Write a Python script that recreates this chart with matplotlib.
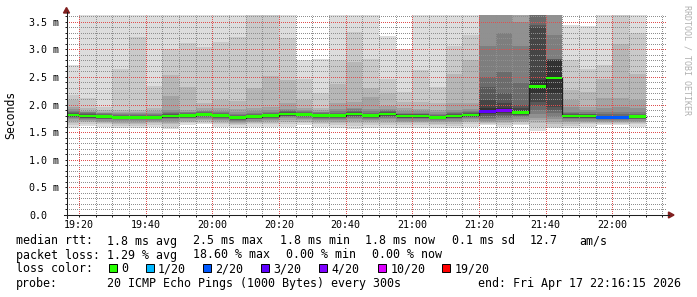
import numpy as np
import matplotlib
matplotlib.use("Agg")
import matplotlib.pyplot as plt
from matplotlib.patches import Rectangle, Polygon
from matplotlib.lines import Line2D
from matplotlib.ticker import FixedLocator

INF = float("inf")

# ---------------- data ----------------
bin_starts = ["19:15", "19:20", "19:25", "19:30", "19:35", "19:40", "19:45", "19:50", "19:55",
              "20:00", "20:05", "20:10", "20:15", "20:20", "20:25", "20:30", "20:35", "20:40",
              "20:45", "20:50", "20:55", "21:00", "21:05", "21:10", "21:15", "21:20", "21:25",
              "21:30", "21:35", "21:40", "21:45", "21:50", "21:55", "22:00", "22:05"]
bin_minutes = 5
view_start = "19:16:15"
view_end = "22:16:15"

median_ms = [1.81, 1.79, 1.78, 1.77, 1.77, 1.77, 1.79, 1.80, 1.82, 1.80, 1.76, 1.78, 1.80,
             1.83, 1.82, 1.80, 1.80, 1.83, 1.80, 1.83, 1.79, 1.79, 1.77, 1.79, 1.81, 1.87,
             1.89, 1.85, 2.32, 2.48, 1.79, 1.79, 1.77, 1.77, 1.78]
loss_count = [0] * 25 + [3, 4, 0, 0, 0, 0, 0, 2, 2, 0]

# 20 sorted ping RTTs (ms) per 5-minute bin
pings = [
    [1.58, 1.63, 1.67, 1.70, 1.73, 1.76, 1.77, 1.78, 1.79, 1.80, 1.82, 1.83, 1.84, 1.86, 1.89, 1.92, 1.96, 2.08, 2.17, 2.71],
    [1.61, 1.65, 1.68, 1.70, 1.72, 1.74, 1.75, 1.76, 1.77, 1.78, 1.80, 1.81, 1.82, 1.84, 1.86, 1.87, 1.89, 1.93, 2.11, INF],
    [1.60, 1.64, 1.67, 1.69, 1.71, 1.73, 1.74, 1.75, 1.76, 1.77, 1.79, 1.80, 1.81, 1.82, 1.84, 1.85, 1.87, 1.90, 1.96, INF],
    [1.57, 1.61, 1.64, 1.67, 1.70, 1.72, 1.73, 1.74, 1.75, 1.76, 1.78, 1.79, 1.80, 1.81, 1.83, 1.84, 1.86, 1.90, 2.65, INF],
    [1.57, 1.61, 1.64, 1.67, 1.70, 1.72, 1.73, 1.74, 1.75, 1.76, 1.78, 1.79, 1.80, 1.81, 1.83, 1.84, 1.86, 1.90, 3.22, INF],
    [1.60, 1.63, 1.66, 1.68, 1.70, 1.72, 1.73, 1.74, 1.75, 1.76, 1.78, 1.79, 1.80, 1.81, 1.83, 1.85, 1.88, 1.94, 2.33, INF],
    [1.55, 1.60, 1.64, 1.67, 1.70, 1.73, 1.75, 1.76, 1.77, 1.78, 1.80, 1.81, 1.82, 1.84, 1.87, 1.90, 2.15, 2.53, 3.00, INF],
    [1.63, 1.66, 1.69, 1.71, 1.73, 1.75, 1.76, 1.77, 1.78, 1.79, 1.81, 1.82, 1.83, 1.84, 1.86, 1.87, 1.90, 2.31, 3.12, INF],
    [1.64, 1.67, 1.70, 1.72, 1.74, 1.76, 1.78, 1.79, 1.80, 1.81, 1.83, 1.84, 1.85, 1.86, 1.88, 1.89, 1.93, 2.02, 3.04, INF],
    [1.60, 1.64, 1.67, 1.70, 1.72, 1.74, 1.76, 1.77, 1.78, 1.79, 1.81, 1.82, 1.83, 1.84, 1.86, 1.88, 1.93, 2.09, 3.14, INF],
    [1.58, 1.62, 1.65, 1.67, 1.69, 1.71, 1.72, 1.73, 1.74, 1.75, 1.77, 1.78, 1.79, 1.81, 1.83, 1.86, 1.91, 2.07, 3.22, INF],
    [1.60, 1.64, 1.67, 1.69, 1.71, 1.73, 1.74, 1.75, 1.76, 1.77, 1.79, 1.80, 1.81, 1.83, 1.85, 1.88, 1.93, 2.29, INF, INF],
    [1.60, 1.64, 1.67, 1.70, 1.72, 1.74, 1.76, 1.77, 1.78, 1.79, 1.81, 1.82, 1.83, 1.85, 1.87, 1.90, 1.96, 2.51, INF, INF],
    [1.60, 1.65, 1.69, 1.72, 1.75, 1.77, 1.79, 1.80, 1.81, 1.82, 1.84, 1.85, 1.86, 1.88, 1.90, 1.92, 2.03, 2.45, 3.20, INF],
    [1.62, 1.66, 1.69, 1.72, 1.74, 1.76, 1.78, 1.79, 1.80, 1.81, 1.83, 1.84, 1.85, 1.86, 1.88, 1.90, 1.94, 2.08, 2.47, 2.80],
    [1.60, 1.64, 1.67, 1.70, 1.72, 1.74, 1.76, 1.77, 1.78, 1.79, 1.81, 1.82, 1.83, 1.84, 1.86, 1.87, 1.90, 1.94, 2.20, 2.83],
    [1.57, 1.62, 1.66, 1.69, 1.72, 1.74, 1.76, 1.77, 1.78, 1.79, 1.81, 1.82, 1.83, 1.85, 1.88, 1.92, 2.03, 2.38, 2.80, INF],
    [1.55, 1.61, 1.66, 1.70, 1.73, 1.76, 1.78, 1.80, 1.81, 1.82, 1.84, 1.85, 1.86, 1.88, 1.91, 1.94, 2.05, 2.77, 3.31, INF],
    [1.58, 1.63, 1.67, 1.70, 1.72, 1.74, 1.76, 1.77, 1.78, 1.79, 1.81, 1.82, 1.83, 1.85, 1.88, 1.92, 2.13, 2.29, 2.82, INF],
    [1.57, 1.62, 1.67, 1.71, 1.74, 1.76, 1.78, 1.80, 1.81, 1.82, 1.84, 1.85, 1.86, 1.88, 1.90, 1.92, 1.97, 2.20, 2.47, 3.24],
    [1.58, 1.62, 1.66, 1.69, 1.71, 1.73, 1.75, 1.76, 1.77, 1.78, 1.80, 1.81, 1.82, 1.83, 1.85, 1.88, 1.93, 2.04, 2.23, 3.00],
    [1.58, 1.62, 1.66, 1.69, 1.71, 1.73, 1.75, 1.76, 1.77, 1.78, 1.80, 1.81, 1.82, 1.83, 1.85, 1.88, 1.92, 2.05, 2.63, INF],
    [1.58, 1.62, 1.65, 1.68, 1.70, 1.72, 1.73, 1.74, 1.75, 1.76, 1.78, 1.79, 1.80, 1.81, 1.83, 1.86, 1.90, 2.02, 2.32, INF],
    [1.57, 1.61, 1.65, 1.68, 1.71, 1.73, 1.75, 1.76, 1.77, 1.78, 1.80, 1.81, 1.82, 1.84, 1.87, 1.90, 2.02, 2.56, 3.06, INF],
    [1.60, 1.64, 1.68, 1.71, 1.73, 1.75, 1.77, 1.78, 1.79, 1.80, 1.82, 1.83, 1.84, 1.86, 1.89, 1.92, 2.03, 2.80, 3.25, INF],
    [1.62, 1.64, 1.66, 1.68, 1.70, 1.73, 1.76, 1.79, 1.82, 1.86, 1.93, 2.08, 2.31, 2.50, 3.06, INF, INF, INF, INF, INF],
    [1.60, 1.63, 1.66, 1.69, 1.72, 1.75, 1.78, 1.81, 1.85, 1.88, 1.94, 2.02, 2.20, 2.59, 3.29, INF, INF, INF, INF, INF],
    [1.62, 1.65, 1.68, 1.71, 1.74, 1.77, 1.79, 1.81, 1.83, 1.84, 1.89, 1.93, 2.00, 2.39, 3.06, 3.50, INF, INF, INF, INF],
    [1.52, 1.60, 1.66, 1.72, 1.76, 1.82, 1.90, 1.98, 2.05, 2.20, 2.45, 3.40, 3.44, INF, INF, INF, INF, INF, INF, INF],
    [1.57, 1.60, 1.64, 1.68, 1.73, 1.78, 1.84, 1.90, 1.96, 2.20, 2.80, 2.81, 2.82, 2.83, 3.25, INF, INF, INF, INF, INF],
    [1.57, 1.61, 1.65, 1.68, 1.71, 1.73, 1.75, 1.76, 1.77, 1.78, 1.80, 1.81, 1.82, 1.84, 1.87, 1.95, 2.08, 2.26, 2.80, 3.44],
    [1.60, 1.64, 1.67, 1.69, 1.71, 1.73, 1.75, 1.76, 1.77, 1.78, 1.80, 1.81, 1.82, 1.83, 1.86, 1.90, 1.96, 2.23, 2.65, 3.42],
    [1.62, 1.65, 1.67, 1.69, 1.71, 1.72, 1.73, 1.74, 1.75, 1.76, 1.78, 1.79, 1.80, 1.82, 1.86, 1.93, 2.11, 2.47, 2.71, INF],
    [1.62, 1.65, 1.67, 1.69, 1.71, 1.72, 1.73, 1.74, 1.75, 1.76, 1.78, 1.79, 1.80, 1.82, 1.86, 1.95, 2.11, 3.10, INF, INF],
    [1.60, 1.64, 1.67, 1.69, 1.71, 1.73, 1.74, 1.75, 1.76, 1.77, 1.79, 1.80, 1.81, 1.83, 1.86, 1.93, 2.08, 2.55, 3.30, INF],
]

y_upper_ms = 3.62
y_tick_labels = ["0.0", "0.5 m", "1.0 m", "1.5 m", "2.0 m", "2.5 m", "3.0 m", "3.5 m"]
x_tick_labels = ["19:20", "19:40", "20:00", "20:20", "20:40", "21:00", "21:20", "21:40", "22:00"]

loss_legend_labels = ["0", "1/20", "2/20", "3/20", "4/20", "10/20", "19/20"]
loss_legend_limits = [0, 1, 2, 3, 4, 10, 19]
loss_legend_colors = ["#26ff00", "#00b8ff", "#0059ff", "#5e00ff", "#7e00ff", "#dd00ff", "#ff0000"]

line_rtt = [("median rtt:", 16), ("1.8 ms avg", 107.3), ("2.5 ms max", 193.3), ("1.8 ms min", 280),
            ("1.8 ms now", 365), ("0.1 ms sd", 451.7), ("12.7", 530), ("am/s", 579.3)]
line_loss = [("packet loss:", 16), ("1.29 % avg", 107.3), ("18.60 % max", 192.7),
             ("0.00 % min", 286), ("0.00 % now", 372.3)]
line_probe = [("probe:", 16), ("20 ICMP Echo Pings (1000 Bytes) every 300s", 107.3),
              ("end: Fri Apr 17 22:16:15 2026", 478.3)]
loss_legend_x = [109.3, 146.0, 203.3, 261.0, 319.0, 378.3, 442.3]

# ---------------- helpers ----------------
W, H = 697, 297
MONO = "DejaVu Sans Mono"


def tmin(s):
    parts = [float(p) for p in s.split(":")]
    v = parts[0] * 60 + parts[1]
    if len(parts) > 2:
        v += parts[2] / 60.0
    return v


def fx(px):
    return px / W


def fy(py):
    return 1 - py / H


starts = np.array([tmin(s) for s in bin_starts])
edges = np.append(starts, starts[-1] + bin_minutes)
P = np.array(pings, dtype=float)
P = np.minimum(P, y_upper_ms * 3)

fig = plt.figure(figsize=(W / 100, H / 100), dpi=100)
fig.patch.set_facecolor("white")
ax = fig.add_axes([fx(66.5), fy(215), 600 / W, 200 / H])
ax.set_facecolor("white")

# smoke layers (outer light -> inner dark)
half = 10
for i in range(1, half + 1):
    g = int(190 / half * (half - i)) + 50
    col = "#%02x%02x%02x" % (g, g, g)
    lo = P[:, i - 1]
    hi = P[:, 20 - i]
    ax.fill_between(edges, np.append(lo, lo[-1]), np.append(hi, hi[-1]), step="post",
                    color=col, linewidth=0, antialiased=False, zorder=1)

# median line
med = np.array(median_ms)
ax.step(edges, np.append(med, med[-1]), where="post", color="#202020", lw=0.9, zorder=3)


def loss_color(n):
    c = loss_legend_colors[0]
    for lim, cc in zip(loss_legend_limits, loss_legend_colors):
        if n >= lim:
            c = cc
    return c


sw = 0.025
ax.bar(starts, 2 * sw, bottom=med - sw, width=bin_minutes, align="edge",
       color=[loss_color(n) for n in loss_count], linewidth=0, antialiased=False, zorder=4)

ax.set_xlim(tmin(view_start), tmin(view_end))
ax.set_ylim(0, y_upper_ms)

# ticks: major every 20 min / 0.5 ms, minor every 5 min / 0.1 ms (not on majors)
major_x = [tmin(s) for s in x_tick_labels]
minor_x = [t for t in range(1160, 1340, 5) if t not in major_x]
major_y = [k * 0.5 for k in range(len(y_tick_labels))]
minor_y = [k / 10 for k in range(1, 37) if k % 5 != 0]
ax.xaxis.set_major_locator(FixedLocator(major_x))
ax.xaxis.set_minor_locator(FixedLocator(minor_x))
ax.yaxis.set_major_locator(FixedLocator(major_y))
ax.yaxis.set_minor_locator(FixedLocator(minor_y))
ax.set_xticklabels(x_tick_labels)
ax.set_yticklabels(y_tick_labels)

ax.set_axisbelow(False)
ax.grid(which="minor", color=(0.56, 0.56, 0.56, 0.75), linestyle=(0.5, (1, 1)), linewidth=0.72)
ax.grid(which="major", color=(0.87, 0.31, 0.31, 0.60), linestyle=(0.5, (1, 1)), linewidth=0.72)

for s in ax.spines.values():
    s.set_visible(False)
ax.tick_params(axis="both", which="both", length=1.5, width=0.72, color="#1f1f1f",
               labelsize=7.2, labelcolor="black")
ax.tick_params(axis="x", which="major", pad=2.3)
ax.tick_params(axis="y", which="major", pad=25.5)
for lbl in ax.get_yticklabels():
    lbl.set_horizontalalignment("left")
    lbl.set_fontfamily(MONO)
for lbl in ax.get_xticklabels():
    lbl.set_fontfamily(MONO)

# axes lines and arrows
axis_col = "#1f1f1f"
arrow_col = "#801f1f"
fig.add_artist(Line2D([fx(66.5), fx(66.5)], [fy(218), fy(12)], color=axis_col, lw=0.75))
fig.add_artist(Line2D([fx(63.5), fx(669)], [fy(215), fy(215)], color=axis_col, lw=0.75))
fig.add_artist(Polygon([[fx(66.5), fy(7.5)], [fx(63.5), fy(13)], [fx(69.5), fy(13)]],
                       closed=True, color=arrow_col, transform=fig.transFigure))
fig.add_artist(Polygon([[fx(674), fy(215)], [fx(668.5), fy(212)], [fx(668.5), fy(218)]],
                       closed=True, color=arrow_col, transform=fig.transFigure))

# y label
fig.text(fx(10.7), fy(115), "Seconds", rotation=90, ha="center", va="center",
         fontsize=8.3, family=MONO)

# watermark
fig.text(fx(687), fy(5), "RRDTOOL / TOBI OETIKER", rotation=-90, ha="center", va="top",
         fontsize=6.0, family=MONO, color="#b0b0b0")

# legend text
LF = 8.4
for txt, x in line_rtt:
    fig.text(fx(x), fy(244.5), txt, ha="left", va="baseline", fontsize=LF, family=MONO)
for txt, x in line_loss:
    fig.text(fx(x), fy(258.5), txt, ha="left", va="baseline", fontsize=LF, family=MONO)
fig.text(fx(16), fy(272.5), "loss color:", ha="left", va="baseline", fontsize=LF, family=MONO)
for lab, col, x in zip(loss_legend_labels, loss_legend_colors, loss_legend_x):
    fig.add_artist(Rectangle((fx(x), fy(272)), 8 / W, 8 / H, facecolor=col,
                             edgecolor="black", linewidth=0.7, transform=fig.transFigure))
    fig.text(fx(x + 12), fy(272.5), lab, ha="left", va="baseline", fontsize=LF, family=MONO)
for txt, x in line_probe:
    fig.text(fx(x), fy(286.5), txt, ha="left", va="baseline", fontsize=LF, family=MONO)

fig.savefig("out.png", dpi=100, facecolor="white")
